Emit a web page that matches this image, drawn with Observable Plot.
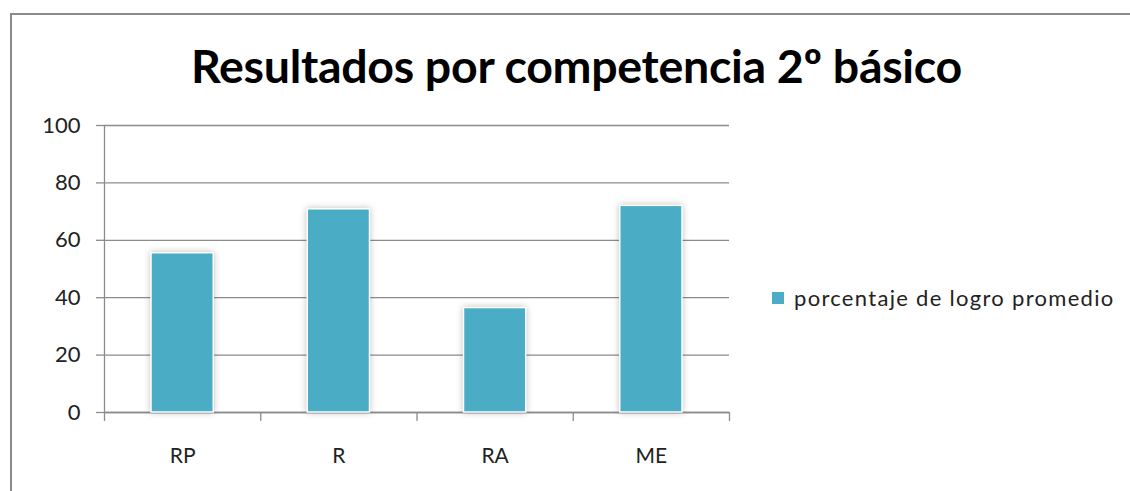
<!DOCTYPE html>
<html>
<head>
<meta charset="utf-8">
<script src="https://cdn.jsdelivr.net/npm/d3@7"></script>
<script src="https://cdn.jsdelivr.net/npm/@observablehq/plot@0.6"></script>
<style>
  html, body { margin: 0; padding: 0; background: #fff; }
  #wrap { position: relative; width: 1130px; height: 491px; overflow: hidden; font-family: Lato, "Open Sans", sans-serif; }
  #border { position: absolute; left: 10px; top: 13px; width: 1200px; height: 600px; border: 2px solid #8a8a8a; box-sizing: border-box; }
  #title { position: absolute; left: 0; width: 1153px; top: 37px; text-align: center; font-size: 46.5px; font-weight: bold; color: #000; letter-spacing: -0.3px; }
  #chart { position: absolute; left: 0; top: 100px; }
  #legend { position: absolute; left: 772px; top: 284px; display: flex; align-items: center; font-size: 22px; letter-spacing: 1.3px; color: #222; }
  #legend .sw { width: 12px; height: 12px; background: #4BACC6; margin-right: 10px; }
</style>
</head>
<body>
<div id="wrap">
  <div id="border"></div>
  <div id="title">Resultados por competencia 2º básico</div>
  <div id="chart"></div>
  <div id="legend"><span class="sw"></span><span>porcentaje de logro promedio</span></div>
</div>
<script>
const categories = ["RP", "R", "RA", "ME"];
const values = [55.5, 70.8, 36.4, 72.0];
const yTicks = [0, 20, 40, 60, 80, 100];
const seriesName = "porcentaje de logro promedio";
const barColor = "#4BACC6";

const data = categories.map((c, i) => ({ cat: c, idx: i, next: i + 1, mid: i + 0.5, value: values[i] }));
const boundaries = d3.range(categories.length + 1);

const chart = Plot.plot({
  width: 1130,
  height: 391,
  marginLeft: 104,
  marginRight: 401,
  marginTop: 25,
  marginBottom: 79,
  style: { fontFamily: "Lato, 'Open Sans', sans-serif", fontSize: "22px", color: "#222", background: "transparent" },
  x: { type: "linear", domain: [0, categories.length], axis: null },
  y: { domain: [0, 100], axis: null },
  marks: [
    Plot.gridY(yTicks, { stroke: "#8c8c8c", strokeOpacity: 1, strokeWidth: 1.3 }),
    Plot.axisY(yTicks, { tickSize: 8, tickPadding: 16, stroke: "#8c8c8c", strokeWidth: 1.3, fill: "#222", fontSize: 22, label: null }),
    Plot.axisX(boundaries, { tickSize: 9, tickFormat: () => "", stroke: "#8c8c8c", strokeWidth: 1.3, label: null, anchor: "bottom" }),
    Plot.ruleX([0], { y1: 0, y2: 100, stroke: "#8c8c8c", strokeWidth: 1.3 }),
    Plot.ruleY([0], { stroke: "#8c8c8c", strokeWidth: 1.3 }),
    Plot.rectY(data, { x1: "idx", x2: "next", y1: 0, y2: "value", fill: barColor, stroke: "#ffffff", strokeWidth: 1.5, insetLeft: 47, insetRight: 47, title: d => `${d.cat}: ${d.value}` }),
    Plot.text(data, { x: "mid", y: 0, text: "cat", dy: 44, fontSize: 21, fill: "#222", textAnchor: "middle", lineAnchor: "middle" })
  ]
});
document.getElementById("chart").appendChild(chart);
d3.select(chart).selectAll("g[aria-label='rect'] rect").style("filter", "drop-shadow(0px 0px 3px rgba(0,0,0,0.25))");
</script>
</body>
</html>
